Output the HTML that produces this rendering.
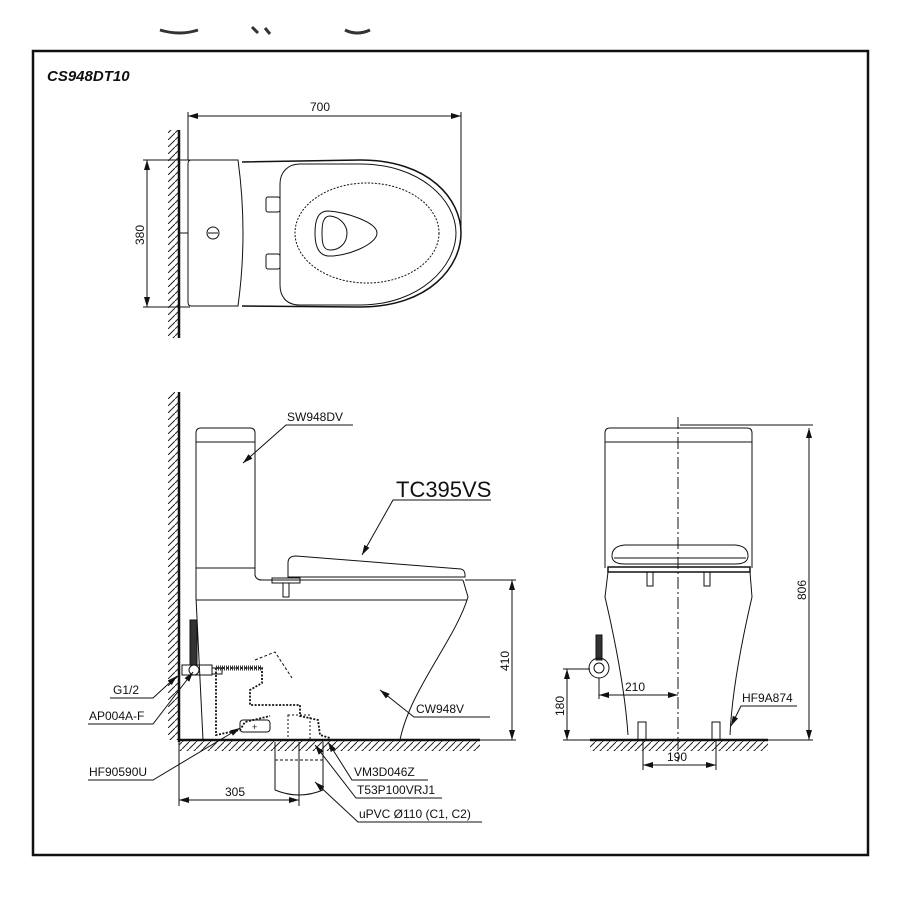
<!DOCTYPE html>
<html><head><meta charset="utf-8"><style>
html,body{margin:0;padding:0;background:#fff;}
svg{display:block;}
text{font-family:"Liberation Sans",Arial,sans-serif;fill:#111;}
</style></head><body>
<svg width="900" height="900" viewBox="0 0 900 900" xmlns="http://www.w3.org/2000/svg">
<defs>
<pattern id="hatch" width="7" height="7" patternUnits="userSpaceOnUse">
<line x1="0" y1="7" x2="7" y2="0" stroke="#222" stroke-width="1"/>
</pattern>
<marker id="ar" markerWidth="10" markerHeight="6" refX="10" refY="3" orient="auto" markerUnits="userSpaceOnUse">
<path d="M0,0 L10,3 L0,6 z" fill="#111"/>
</marker>
<marker id="al" markerWidth="10" markerHeight="6" refX="0" refY="3" orient="auto" markerUnits="userSpaceOnUse">
<path d="M10,0 L0,3 L10,6 z" fill="#111"/>
</marker>
</defs>

<path d="M160,30 Q180,36 198,30" stroke="#333" stroke-width="3" fill="none"/>
<path d="M252,27 L258,33 M265,28 L270,34" stroke="#333" stroke-width="3" fill="none"/>
<path d="M345,30 Q357,36 370,30" stroke="#333" stroke-width="3" fill="none"/>

<rect x="33" y="51" width="835" height="804" fill="none" stroke="#111" stroke-width="2.5"/>
<text x="47" y="81" font-size="15" font-weight="bold" font-style="italic">CS948DT10</text>

<g fill="none" stroke="#111" stroke-width="1">
<rect x="168" y="130" width="11" height="208" fill="url(#hatch)" stroke="none"/>
<line x1="179" y1="130" x2="179" y2="338" stroke-width="2.5"/>
<line x1="188" y1="116" x2="461" y2="116" marker-start="url(#al)" marker-end="url(#ar)"/>
<line x1="188" y1="112" x2="188" y2="160"/>
<line x1="461" y1="112" x2="461" y2="230"/>
<line x1="147" y1="160" x2="147" y2="307" marker-start="url(#al)" marker-end="url(#ar)"/>
<line x1="143" y1="160" x2="190" y2="160"/>
<line x1="143" y1="307" x2="190" y2="307"/>
<line x1="179" y1="233" x2="188" y2="233"/>
<path d="M191,160 L238,160 Q248,233 238,306 L191,306 Q188,306 188,302 L188,164 Q188,160 191,160 z"/>
<circle cx="213" cy="233" r="6"/>
<line x1="208" y1="233" x2="218" y2="233"/>
<path d="M242,162 L360,160 C430,160 461,200 461,233 C461,266 430,307 360,307 L242,306" stroke-width="1.5"/>
<path d="M300,164 L360,164 C420,164 456,200 456,233 C456,266 420,305 360,305 L300,305 C285,305 280,295 280,285 L280,184 C280,172 288,164 300,164 z"/>
<ellipse cx="367" cy="233" rx="72" ry="50" stroke-dasharray="2,1.5"/>
<path d="M328,211 C345,212 377,222 377,233 C377,245 345,257 328,256 C318,255 315,245 315,233 C315,220 318,211 328,211 z"/>
<path d="M330,216 C340,217 347,225 347,233 C347,243 340,250 330,250 C323,250 322,243 322,233 C322,224 323,216 330,216 z"/>
<rect x="266" y="197" width="14" height="15" rx="2"/>
<rect x="266" y="254" width="14" height="15" rx="2"/>

<rect x="168" y="392" width="11" height="348" fill="url(#hatch)" stroke="none"/>
<line x1="179" y1="392" x2="179" y2="742" stroke-width="2.5"/>
<line x1="179" y1="740" x2="480" y2="740" stroke-width="2.5"/>
<rect x="179" y="741" width="301" height="10" fill="url(#hatch)" stroke="none"/>
<path d="M196,568 L196,433 Q196,428 201,428 L250,428 Q255,428 255,433 L255,568"/>
<line x1="196" y1="442" x2="255" y2="442"/>
<line x1="196" y1="568" x2="255" y2="568"/>
<path d="M255,568 L255,575 Q256,580 262,580 L463,580"/>
<path d="M196,568 L196,598 L203,740"/>
<line x1="196" y1="600" x2="467" y2="600"/>
<path d="M463,580 L468,597 C455,640 410,690 400,740"/>
<path d="M288,563 Q288,556 296,556 L461,569 Q465,570 465,575 L465,577 L288,577 z"/>
<rect x="272" y="578" width="28" height="5"/>
<rect x="283" y="583" width="6" height="14"/>
<rect x="190" y="620" width="7" height="45" fill="#333"/>
<rect x="182" y="665" width="30" height="10"/>
<circle cx="194" cy="670" r="5"/>
<rect x="212" y="668" width="10" height="6"/>
<path d="M216,668 L262,668 L262,683 L250,690 L250,705 L300,705 L300,716 L318,720 L320,735 L330,738 M216,668 L216,735 L240,730 L245,722 L270,716" stroke-dasharray="2,1.5" stroke-width="1.8"/>
<path d="M216,668 L262,668" stroke-dasharray="1,1" stroke-width="5" stroke="#333"/>
<path d="M255,660 L275,652 L292,678" stroke-dasharray="3,2"/>
<rect x="240" y="720" width="30" height="12" rx="3"/>
<text x="252" y="730" font-size="9" fill="#a0a" stroke="none">+</text>
<rect x="288" y="715" width="22" height="25" stroke-dasharray="2,2"/>
<path d="M275,742 L275,790 M323,742 L323,790 M275,790 Q299,800 323,790"/>
<line x1="275" y1="760" x2="323" y2="760" stroke-dasharray="3,2"/>
<line x1="299" y1="742" x2="299" y2="806"/>
<line x1="179" y1="742" x2="179" y2="806"/>
<line x1="179" y1="800" x2="299" y2="800" marker-start="url(#al)" marker-end="url(#ar)"/>
<line x1="465" y1="580" x2="516" y2="580"/>
<line x1="480" y1="740" x2="516" y2="740"/>
<line x1="512" y1="580" x2="512" y2="740" marker-start="url(#al)" marker-end="url(#ar)"/>
<polyline points="353,425 286,425 243,463" marker-end="url(#ar)"/>
<polyline points="491,500 393,500 362,555" marker-end="url(#ar)"/>
<polyline points="490,717 414,717 380,690" marker-end="url(#ar)"/>
<polyline points="110,698 153,698 177,676" marker-end="url(#ar)"/>
<polyline points="88,724 153,724 193,672" marker-end="url(#ar)"/>
<polyline points="88,780 153,780 240,728" marker-end="url(#ar)"/>
<polyline points="428,780 352,780 328,742" marker-end="url(#ar)"/>
<polyline points="442,798 356,798 315,745" marker-end="url(#ar)"/>
<polyline points="482,822 358,822 315,782" marker-end="url(#ar)"/>

<line x1="678" y1="417" x2="678" y2="762" stroke-dasharray="12,3,2,3"/>
<path d="M605,568 L605,433 Q605,428 610,428 L747,428 Q752,428 752,433 L752,568"/>
<line x1="605" y1="442" x2="752" y2="442"/>
<path d="M612,556 Q612,546 625,545 L735,545 Q748,546 748,556 Q748,564 735,564 L625,564 Q612,564 612,556 z"/>
<line x1="614" y1="558" x2="746" y2="558"/>
<rect x="608" y="567" width="142" height="5" stroke-width="1.5"/>
<rect x="647" y="572" width="6" height="14"/>
<rect x="704" y="572" width="6" height="14"/>
<path d="M608,572 L605,597 C615,640 625,690 628,735 M750,572 L752,597 C742,640 732,690 730,735"/>
<line x1="590" y1="740" x2="768" y2="740" stroke-width="2.5"/>
<rect x="590" y="741" width="178" height="10" fill="url(#hatch)" stroke="none"/>
<rect x="638" y="722" width="8" height="18"/>
<rect x="712" y="722" width="8" height="18"/>
<rect x="596" y="635" width="6" height="25" fill="#333"/>
<circle cx="599" cy="668" r="10"/>
<circle cx="599" cy="668" r="5"/>
<line x1="680" y1="425" x2="813" y2="425"/>
<line x1="768" y1="740" x2="813" y2="740"/>
<line x1="809" y1="428" x2="809" y2="740" marker-start="url(#al)" marker-end="url(#ar)"/>
<line x1="563" y1="669" x2="590" y2="669"/>
<line x1="567" y1="669" x2="567" y2="740" marker-start="url(#al)" marker-end="url(#ar)"/>
<line x1="563" y1="740" x2="590" y2="740"/>
<line x1="599" y1="678" x2="599" y2="699"/>
<line x1="599" y1="695" x2="678" y2="695" marker-start="url(#al)" marker-end="url(#ar)"/>
<line x1="643" y1="740" x2="643" y2="770"/>
<line x1="716" y1="740" x2="716" y2="770"/>
<line x1="643" y1="765" x2="716" y2="765" marker-start="url(#al)" marker-end="url(#ar)"/>
<polyline points="797,706 741,706 731,726" marker-end="url(#ar)"/>
</g>

<g font-size="12">
<text x="310" y="111">700</text>
<text x="0" y="0" transform="translate(144,245) rotate(-90)">380</text>
<text x="287" y="421">SW948DV</text>
<text x="396" y="497" font-size="22">TC395VS</text>
<text x="0" y="0" transform="translate(509,671) rotate(-90)">410</text>
<text x="416" y="713">CW948V</text>
<text x="113" y="694">G1/2</text>
<text x="89" y="720">AP004A-F</text>
<text x="89" y="776">HF90590U</text>
<text x="354" y="776">VM3D046Z</text>
<text x="357" y="794">T53P100VRJ1</text>
<text x="359" y="818">uPVC Ø110 (C1, C2)</text>
<text x="225" y="796">305</text>
<text x="0" y="0" transform="translate(806,600) rotate(-90)">806</text>
<text x="0" y="0" transform="translate(564,716) rotate(-90)">180</text>
<text x="625" y="691">210</text>
<text x="667" y="761">190</text>
<text x="742" y="702">HF9A874</text>
</g>
</svg>
</body></html>
